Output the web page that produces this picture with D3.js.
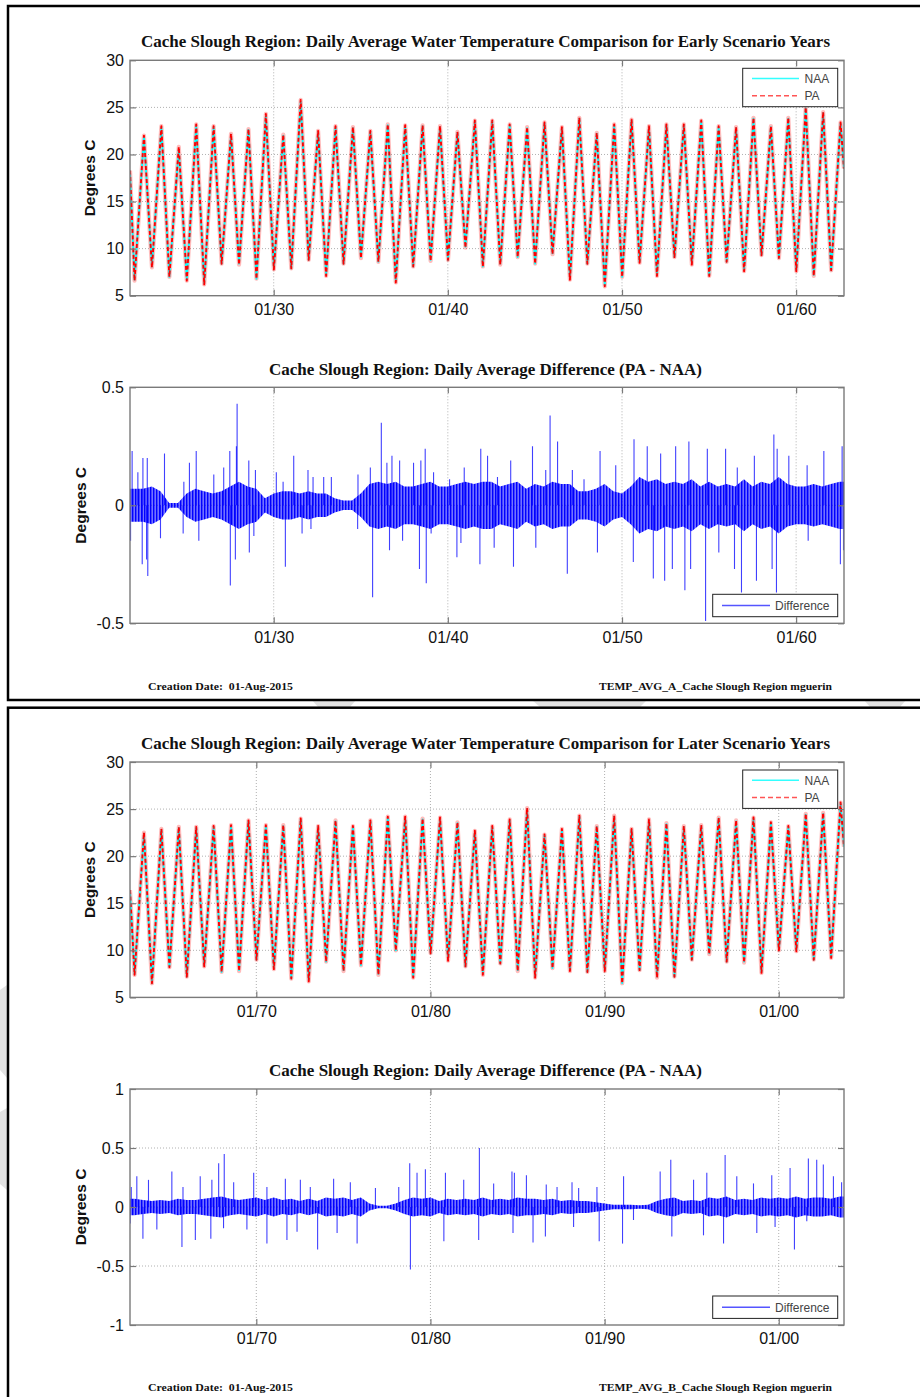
<!DOCTYPE html>
<html><head><meta charset="utf-8">
<script src="https://cdn.jsdelivr.net/npm/d3@7"></script>
<style>body{margin:0;background:#fff}svg{display:block}</style>
</head><body>
<svg id="c" width="920" height="1397"></svg>
<script>
// ---------------- DATA ----------------
// Water years shown in each figure (Oct 1 .. Sep 30)
const earlyYears = [1922,1923,1924,1925,1926,1927,1928,1929,1930,1931,1932,1933,1934,1935,1936,1937,1938,1939,1940,1941,1942,1943,1944,1945,1946,1947,1948,1949,1950,1951,1952,1953,1954,1955,1956,1957,1958,1959,1960,1961,1962];
const lateYears  = [1963,1964,1965,1966,1967,1968,1969,1970,1971,1972,1973,1974,1975,1976,1977,1978,1979,1980,1981,1982,1983,1984,1985,1986,1987,1988,1989,1990,1991,1992,1993,1994,1995,1996,1997,1998,1999,2000,2001,2002,2003];

// Winter minima (early January) and summer maxima (July), deg C
const earlyNaaLow  = [6.7,8.1,7.0,6.7,6.3,8.4,8.4,6.8,7.9,7.9, 8.8,7.2,8.4,9.1,8.6,6.5,8.1,8.8,8.8,10.2, 8.1,8.4,9.1,8.4,9.5,6.8,8.4,6.1,7.0,8.6, 7.2,9.1,8.4,7.2,8.6,7.7,9.3,9.0,7.7,7.2, 7.7];
const earlyNaaHigh = [21.9,22.9,20.6,23.1,22.9,22.1,22.6,24.1,22.0,25.6, 22.4,22.9,22.8,22.4,23.1,23.0,23.0,22.9,22.3,23.5, 23.5,23.1,22.8,23.3,22.8,23.8,22.2,23.1,23.6,22.9, 23.1,23.1,23.5,22.9,22.8,23.8,22.9,23.8,24.9,24.4, 23.3];
const earlyPaLow   = [6.6,8.0,7.0,6.6,6.2,8.4,8.3,6.8,7.8,7.9, 8.8,7.1,8.4,9.0,8.6,6.4,8.1,8.7,8.8,10.1, 8.1,8.3,9.1,8.4,9.4,6.7,8.4,6.0,7.0,8.5, 7.1,9.1,8.3,7.1,8.6,7.6,9.3,9.0,7.6,7.1, 7.7];
const earlyPaHigh  = [22.0,23.0,20.8,23.2,23.0,22.2,22.7,24.3,22.1,25.8, 22.5,23.0,22.9,22.5,23.2,23.1,23.1,23.0,22.4,23.6, 23.6,23.2,22.9,23.4,22.9,23.9,22.3,23.2,23.7,23.0, 23.2,23.2,23.6,23.0,22.9,23.9,23.0,23.9,25.0,24.5, 23.4];
const earlyEnds    = [18.3, 18.5];   // Oct 1 1921, Sep 30 1962

const lateNaaLow  = [7.5,6.5,8.3,7.2,8.4,7.7,7.9,9.0,8.1,7.0, 6.8,8.8,7.9,8.4,7.5,10.0,7.2,9.7,9.0,8.3, 7.5,8.6,7.9,7.2,8.1,7.9,7.7,7.9,6.5,7.9, 7.2,7.2,9.0,9.7,8.8,8.8,7.7,10.0,10.0,9.0, 9.3];
const lateNaaHigh = [22.4,22.8,23.0,23.0,23.1,23.2,23.7,23.2,23.2,23.9, 23.1,23.7,23.1,23.7,24.1,24.1,23.9,24.0,23.5,22.6, 23.1,23.8,25.0,22.2,22.8,24.2,23.1,24.2,22.8,23.8, 23.4,23.1,23.2,24.0,23.7,24.0,23.5,23.1,24.4,24.5, 25.6];
const latePaLow   = [7.4,6.5,8.2,7.2,8.3,7.7,7.8,9.0,8.0,7.0, 6.7,8.8,7.8,8.4,7.4,10.0,7.1,9.7,8.9,8.3, 7.4,8.6,7.8,7.1,8.1,7.8,7.7,7.8,6.5,7.9, 7.1,7.2,9.0,9.6,8.8,8.7,7.6,10.0,9.9,9.0, 9.2];
const latePaHigh  = [22.5,22.9,23.1,23.1,23.2,23.3,23.8,23.3,23.3,24.0, 23.2,23.8,23.2,23.8,24.2,24.2,24.0,24.1,23.6,22.7, 23.2,23.9,25.1,22.3,22.9,24.3,23.2,24.3,22.9,23.9, 23.5,23.2,23.3,24.1,23.8,24.1,23.6,23.2,24.5,24.6, 25.7];
const lateEnds    = [16.4, 21.0];    // Oct 1 1962, Sep 30 2003

// Difference (PA - NAA): dense core half-amplitude per half year
const earlyCoreStart = 1921.75;
const earlyCore = [0.07,0.07,0.08,0.06,0.01,0.01,0.05,0.07,0.06,0.05,
                   0.06,0.08,0.10,0.08,0.07,0.03,0.05,0.06,0.06,0.05,
                   0.06,0.05,0.05,0.03,0.02,0.02,0.05,0.09,0.10,0.09,
                   0.10,0.08,0.08,0.09,0.10,0.08,0.08,0.09,0.10,0.09,
                   0.10,0.10,0.08,0.09,0.10,0.07,0.09,0.08,0.10,0.09,
                   0.09,0.06,0.06,0.07,0.09,0.06,0.05,0.08,0.12,0.10,
                   0.11,0.09,0.10,0.09,0.11,0.08,0.10,0.08,0.09,0.08,
                   0.11,0.08,0.10,0.09,0.12,0.09,0.08,0.08,0.09,0.08,
                   0.09,0.10];
// Individual spikes (decimal year, deg C)
const earlyDiffT = [1921.87,1922.20,1922.49,1922.74,1923.73,1924.84,1925.16,1925.55,1926.56,1927.13,1927.48,1927.86,1927.90,1928.57,1928.95,1930.15,1930.54,1931.15,1931.97,1932.26,1932.87,1933.31,1934.84,1935.55,1936.18,1936.50,1936.79,1937.23,1938.03,1938.45,1938.70,1939.18,1940.10,1940.94,1941.89,1942.28,1942.85,1943.61,1944.86,1945.62,1945.87,1946.30,1947.15,1947.82,1948.74,1949.64,1950.69,1951.45,1952.22,1953.08,1953.84,1954.90,1955.95,1956.62,1957.60,1958.72,1958.91,1959.58,1960.63,1961.59,1962.64,
  1921.78,1922.45,1922.70,1922.77,1923.50,1924.80,1925.70,1927.51,1927.80,1928.60,1928.86,1930.67,1931.63,1932.14,1934.82,1935.68,1936.65,1937.40,1938.37,1938.76,1939.04,1940.52,1940.75,1941.84,1942.66,1943.77,1945.05,1946.86,1948.59,1950.65,1951.80,1952.45,1952.89,1953.61,1953.94,1954.80,1955.56,1956.46,1956.86,1957.72,1958.62,1958.87,1960.69,1962.54,1962.72];
const earlyDiffV = [0.23,0.14,0.20,0.20,0.22,0.10,0.18,0.23,0.13,0.16,0.23,0.25,0.43,0.19,0.15,0.14,0.10,0.21,0.15,0.12,0.12,0.12,0.13,0.16,0.35,0.18,0.21,0.19,0.18,0.19,0.24,0.14,0.11,0.16,0.24,0.21,0.12,0.19,0.25,0.15,0.38,0.27,0.15,0.11,0.23,0.17,0.28,0.25,0.22,0.25,0.27,0.24,0.24,0.16,0.21,0.30,0.24,0.21,0.17,0.23,0.25,
  -0.15,-0.25,-0.23,-0.30,-0.14,-0.12,-0.15,-0.34,-0.23,-0.20,-0.13,-0.26,-0.12,-0.10,-0.10,-0.39,-0.19,-0.15,-0.27,-0.33,-0.12,-0.22,-0.16,-0.25,-0.18,-0.26,-0.18,-0.29,-0.20,-0.24,-0.31,-0.32,-0.27,-0.36,-0.27,-0.49,-0.20,-0.27,-0.37,-0.32,-0.27,-0.37,-0.15,-0.25,-0.19];

const lateCoreStart = 1962.75;
const lateCore = [0.07,0.06,0.05,0.06,0.05,0.07,0.06,0.06,0.07,0.08,
                  0.09,0.07,0.06,0.07,0.08,0.06,0.08,0.06,0.07,0.05,
                  0.07,0.05,0.08,0.07,0.08,0.06,0.08,0.03,0.01,0.01,
                  0.03,0.06,0.08,0.07,0.08,0.05,0.07,0.06,0.07,0.06,
                  0.08,0.06,0.07,0.06,0.08,0.07,0.07,0.06,0.07,0.05,
                  0.06,0.05,0.05,0.04,0.03,0.02,0.02,0.02,0.015,0.02,
                  0.05,0.07,0.08,0.05,0.06,0.05,0.08,0.07,0.09,0.06,
                  0.07,0.06,0.08,0.07,0.08,0.07,0.09,0.07,0.08,0.08,
                  0.07,0.09];
const lateDiffT = [1962.82,1963.14,1963.81,1965.15,1965.79,1966.78,1967.45,1967.84,1968.16,1968.70,1969.85,1970.61,1971.67,1972.53,1973.10,1974.44,1975.40,1976.84,1978.18,1978.81,1979.23,1979.71,1980.86,1981.91,1982.81,1983.63,1984.68,1984.82,1985.51,1986.65,1987.27,1988.13,1988.51,1989.56,1991.09,1993.19,1993.80,1995.11,1995.87,1996.92,1997.59,1998.55,1999.60,2000.65,2001.70,2002.18,2002.56,2003.14,2003.61,
  1962.76,1963.49,1964.29,1965.73,1966.50,1967.39,1968.12,1969.46,1970.61,1971.76,1972.34,1973.52,1974.64,1975.79,1978.85,1980.77,1982.77,1984.74,1985.89,1986.60,1988.22,1989.69,1991.03,1991.66,1993.86,1995.68,1996.83,1998.74,1999.79,2000.90,2001.61];
const lateDiffV = [0.17,0.26,0.23,0.30,0.17,0.26,0.23,0.37,0.45,0.21,0.29,0.17,0.24,0.23,0.17,0.24,0.21,0.16,0.17,0.37,0.29,0.32,0.29,0.23,0.50,0.20,0.30,0.29,0.27,0.19,0.17,0.21,0.16,0.17,0.26,0.30,0.40,0.23,0.29,0.44,0.26,0.20,0.27,0.33,0.41,0.40,0.36,0.26,0.21,
  -0.14,-0.27,-0.19,-0.34,-0.28,-0.27,-0.18,-0.19,-0.31,-0.28,-0.21,-0.36,-0.22,-0.31,-0.53,-0.29,-0.28,-0.22,-0.30,-0.25,-0.17,-0.29,-0.31,-0.11,-0.25,-0.24,-0.31,-0.22,-0.17,-0.36,-0.12];

// Axis ticks
const earlyTickYears = [1930,1940,1950,1960];
const lateTickYears  = [1970,1980,1990,2000];
const tempTicks  = [5,10,15,20,25,30];
const diffTicksA = [-0.5,0,0.5];
const diffTicksB = [-1,-0.5,0,0.5,1];

// Texts
const titlesTemp = ["Cache Slough Region: Daily Average Water Temperature Comparison for Early Scenario Years",
                    "Cache Slough Region: Daily Average Water Temperature Comparison for Later Scenario Years"];
const titleDiff = "Cache Slough Region: Daily Average Difference (PA - NAA)";
const footLeft = "Creation Date:\u00a0\u00a001-Aug-2015";
const footRight = ["TEMP_AVG_A_Cache Slough Region mguerin","TEMP_AVG_B_Cache Slough Region mguerin"];

// ---------------- DRAW ----------------
const SANS = "'Liberation Sans', Arial, sans-serif";
const SERIF = "'Liberation Serif', 'Times New Roman', serif";
const X0 = 130, X1 = 844;
const LOW_AT = 0.01, HIGH_AT = 0.55;
const svg = d3.select('#c');
const defs = svg.append('defs');

function yr2date(y){ const Y=Math.floor(y); const s=new Date(Y,0,1), e=new Date(Y+1,0,1); return new Date(+s + (y-Y)*(e-s)); }

// vertical hatch texture for dense daily difference core
const pat = defs.append('pattern').attr('id','hatch').attr('patternUnits','userSpaceOnUse').attr('width',3).attr('height',4);
pat.append('rect').attr('width',3).attr('height',4).attr('fill','#0000ff').attr('fill-opacity',0.55);
pat.append('rect').attr('width',1.4).attr('height',4).attr('fill','#0000ff');

// watermark remnants visible between the frames
const wm = svg.append('g').attr('fill','#e2e2e2');
[[[312,700],[356,700],[350,707],[318,707]],
 [[532,700],[647,700],[640,707],[540,707]],
 [[864,700],[906,700],[900,707],[870,707]],
 [[0,990],[7,985],[7,1078],[0,1070]],
 [[0,1112],[7,1108],[7,1190],[0,1184]]].forEach(p=>wm.append('polygon').attr('points',p.map(q=>q.join(',')).join(' ')));

const figs = [
  {off:0, years:earlyYears, naaLow:earlyNaaLow, naaHigh:earlyNaaHigh, paLow:earlyPaLow, paHigh:earlyPaHigh, ends:earlyEnds,
   start:new Date(1921,9,1), end:new Date(1962,9,1), ticks:earlyTickYears, core:earlyCore, coreStart:earlyCoreStart,
   dT:earlyDiffT, dV:earlyDiffV, dDomain:[-0.5,0.5], dTicks:diffTicksA, title:titlesTemp[0], foot:footRight[0]},
  {off:701.7, years:lateYears, naaLow:lateNaaLow, naaHigh:lateNaaHigh, paLow:latePaLow, paHigh:latePaHigh, ends:lateEnds,
   start:new Date(1962,9,1), end:new Date(2003,9,1), ticks:lateTickYears, core:lateCore, coreStart:lateCoreStart,
   dT:lateDiffT, dV:lateDiffV, dDomain:[-1,1], dTicks:diffTicksB, title:titlesTemp[1], foot:footRight[1]}
];

function grid(g, x, y, xt, ht){
  const top=y.range()[1], bot=y.range()[0];
  const gg=g.append('g').attr('stroke','#b0b0b0').attr('stroke-width',1).attr('stroke-dasharray','1,2');
  gg.selectAll('line.v').data(xt).join('line').attr('class','v')
    .attr('x1',d=>x(d)).attr('x2',d=>x(d)).attr('y1',top).attr('y2',bot);
  gg.selectAll('line.h').data(ht).join('line').attr('class','h')
    .attr('x1',X0).attr('x2',X1).attr('y1',d=>y(d)).attr('y2',d=>y(d));
}
function axes(g, x, y, xt, yt, yfmt){
  const top=y.range()[1], bot=y.range()[0];
  g.append('rect').attr('x',X0).attr('y',top).attr('width',X1-X0).attr('height',bot-top)
    .attr('fill','none').attr('stroke','#7a7a7a').attr('stroke-width',1.4);
  const ab=g.append('g').attr('transform',`translate(0,${bot})`)
    .call(d3.axisBottom(x).tickValues(xt).tickFormat(d3.timeFormat('%m/%y')).tickSizeInner(-6).tickSizeOuter(0).tickPadding(8));
  const at=g.append('g').attr('transform',`translate(0,${top})`)
    .call(d3.axisTop(x).tickValues(xt).tickFormat('').tickSizeInner(-6).tickSizeOuter(0));
  const al=g.append('g').attr('transform',`translate(${X0},0)`)
    .call(d3.axisLeft(y).tickValues(yt).tickFormat(yfmt).tickSizeInner(-6).tickSizeOuter(0).tickPadding(6));
  const ar=g.append('g').attr('transform',`translate(${X1},0)`)
    .call(d3.axisRight(y).tickValues(yt).tickFormat('').tickSizeInner(-6).tickSizeOuter(0));
  [ab,at,al,ar].forEach(a=>{
    a.select('.domain').remove();
    a.selectAll('.tick line').attr('stroke','#7a7a7a').attr('stroke-width',1.2);
    a.selectAll('.tick text').attr('font-family',SANS).attr('font-size','16px').attr('fill','#111');
  });
}
function clip(id, top, bot){
  defs.append('clipPath').attr('id',id).append('rect').attr('x',X0).attr('y',top).attr('width',X1-X0).attr('height',bot-top);
  return `url(#${id})`;
}

figs.forEach((f,fi)=>{
  const o=f.off;
  // frame
  svg.append('rect').attr('x',8).attr('y',6+o).attr('width',940).attr('height',694)
    .attr('fill','#fff').attr('stroke','#000').attr('stroke-width',2.5);
  const g=svg.append('g');
  const x=d3.scaleTime().domain([f.start,f.end]).range([X0,X1]);
  const xt=f.ticks.map(y=>new Date(y,0,1));

  // ---- temperature panel ----
  const tTop=60.3+o, tBot=295.7+o;
  const yT=d3.scaleLinear().domain([5,30]).range([tBot,tTop]);
  grid(g,x,yT,xt,[10,15,20,25]);
  const build=(lows,highs)=>{
    const pts=[{d:f.start,v:f.ends[0]}];
    f.years.forEach((yr,i)=>{ pts.push({d:yr2date(yr+LOW_AT),v:lows[i]}); pts.push({d:yr2date(yr+HIGH_AT),v:highs[i]}); });
    pts.push({d:new Date(+f.end-86400000),v:f.ends[1]});
    return pts;
  };
  const line=d3.line().x(d=>x(d.d)).y(d=>yT(d.v));
  const dt=g.append('g').attr('clip-path',clip('ct'+fi,tTop,tBot)).attr('fill','none').attr('stroke-linejoin','round');
  const pa=build(f.paLow,f.paHigh);
  dt.append('path').datum(pa).attr('d',line).attr('stroke','#ff2020').attr('stroke-opacity',0.3).attr('stroke-width',4.2);
  dt.append('path').datum(build(f.naaLow,f.naaHigh)).attr('d',line).attr('stroke','#00ffff').attr('stroke-width',1.8);
  dt.append('path').datum(pa).attr('d',line).attr('stroke','#ff0000').attr('stroke-width',1.9).attr('stroke-dasharray','4,2.5');
  axes(g,x,yT,xt,tempTicks,d3.format('d'));
  // legend
  const lg=g.append('g').attr('font-family',SANS).attr('font-size','12px').attr('fill','#444');
  lg.append('rect').attr('x',X1-101.3).attr('y',tTop+8).attr('width',95).attr('height',38.4)
    .attr('fill','#fff').attr('stroke','#222').attr('stroke-width',1);
  lg.append('line').attr('x1',X1-92).attr('x2',X1-45).attr('y1',tTop+18.2).attr('y2',tTop+18.2).attr('stroke','#33ffff').attr('stroke-width',1.5);
  lg.append('line').attr('x1',X1-92).attr('x2',X1-45).attr('y1',tTop+35.4).attr('y2',tTop+35.4).attr('stroke','#ff5555').attr('stroke-width',1.5).attr('stroke-dasharray','5,3');
  lg.append('text').attr('x',X1-39.5).attr('y',tTop+18.2).attr('dy','0.36em').text('NAA');
  lg.append('text').attr('x',X1-39.5).attr('y',tTop+35.4).attr('dy','0.36em').text('PA');
  // title & y label
  g.append('text').attr('x',(X0+X1)/2-1.5).attr('y',41.7+o).attr('dy','0.35em').attr('text-anchor','middle')
    .attr('font-family',SERIF).attr('font-weight','bold').attr('font-size','16px').attr('fill','#111')
    .attr('textLength',689).attr('lengthAdjust','spacingAndGlyphs').text(f.title);
  g.append('text').attr('transform',`translate(90,${(tTop+tBot)/2}) rotate(-90)`).attr('dy','0.35em').attr('text-anchor','middle')
    .attr('font-family',SANS).attr('font-weight','bold').attr('font-size','15.5px').attr('fill','#111').text('Degrees C');

  // ---- difference panel ----
  const dTop=387.3+o, dBot=623.3+o;
  const yD=d3.scaleLinear().domain(f.dDomain).range([dBot,dTop]);
  grid(g,x,yD,xt,f.dTicks.filter(v=>v>f.dDomain[0]&&v<f.dDomain[1]));
  const dd=g.append('g').attr('clip-path',clip('cd'+fi,dTop,dBot));
  const core=f.core.map((a,i)=>({d:yr2date(f.coreStart+i*0.5+0.25),a}));
  const coreFull=[{d:f.start,a:core[0].a}].concat(core,[{d:f.end,a:core[core.length-1].a}]);
  dd.append('path').datum(coreFull)
    .attr('d',d3.area().x(d=>x(d.d)).y0(d=>yD(-d.a)).y1(d=>yD(d.a)))
    .attr('fill','url(#hatch)');
  dd.selectAll('line.sp').data(f.dT.map((t,i)=>({t,v:f.dV[i]}))).join('line').attr('class','sp')
    .attr('x1',d=>x(yr2date(d.t))).attr('x2',d=>x(yr2date(d.t)))
    .attr('y1',yD(0)).attr('y2',d=>yD(d.v))
    .attr('stroke','#0000ff').attr('stroke-opacity',0.75).attr('stroke-width',1.1);
  axes(g,x,yD,xt,f.dTicks,d=>String(d));
  const lg2=g.append('g').attr('font-family',SANS).attr('font-size','12px').attr('fill','#444');
  lg2.append('rect').attr('x',X1-131.3).attr('y',dBot-29).attr('width',125).attr('height',22.4)
    .attr('fill','#fff').attr('stroke','#222').attr('stroke-width',1);
  lg2.append('line').attr('x1',X1-122).attr('x2',X1-74).attr('y1',dBot-17.8).attr('y2',dBot-17.8).attr('stroke','#5555ff').attr('stroke-width',1.5);
  lg2.append('text').attr('x',X1-69).attr('y',dBot-17.8).attr('dy','0.36em').text('Difference');
  g.append('text').attr('x',(X0+X1)/2-1.5).attr('y',369+o).attr('dy','0.35em').attr('text-anchor','middle')
    .attr('font-family',SERIF).attr('font-weight','bold').attr('font-size','16px').attr('fill','#111')
    .attr('textLength',433).attr('lengthAdjust','spacingAndGlyphs').text(titleDiff);
  g.append('text').attr('transform',`translate(80.5,${(dTop+dBot)/2}) rotate(-90)`).attr('dy','0.35em').attr('text-anchor','middle')
    .attr('font-family',SANS).attr('font-weight','bold').attr('font-size','15.5px').attr('fill','#111').text('Degrees C');

  // footers
  g.append('text').attr('x',148).attr('y',685.7+o).attr('dy','0.35em')
    .attr('font-family',SERIF).attr('font-weight','bold').attr('font-size','11px').attr('fill','#111')
    .attr('textLength',145).attr('lengthAdjust','spacingAndGlyphs').text(footLeft);
  g.append('text').attr('x',599).attr('y',685.7+o).attr('dy','0.35em')
    .attr('font-family',SERIF).attr('font-weight','bold').attr('font-size','11px').attr('fill','#111')
    .attr('textLength',233).attr('lengthAdjust','spacingAndGlyphs').text(f.foot);
});
</script>
</body></html>
